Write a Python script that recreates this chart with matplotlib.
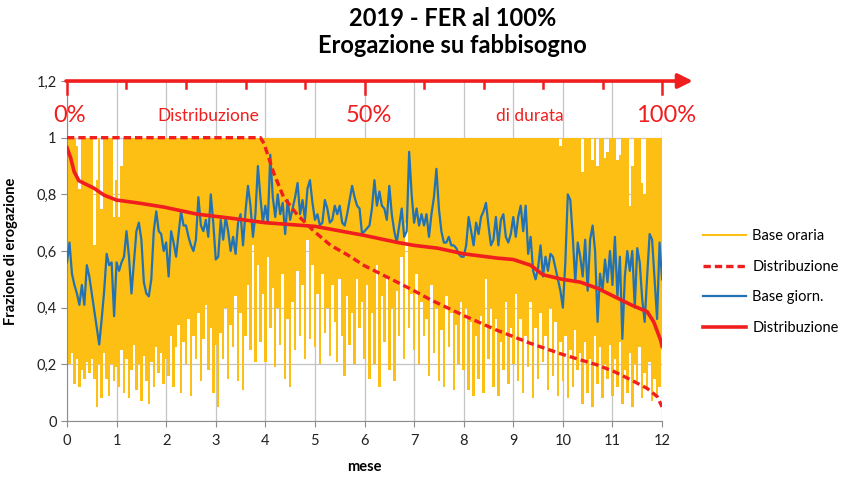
import numpy as np
import matplotlib
matplotlib.use("Agg")
import matplotlib.pyplot as plt
from matplotlib.lines import Line2D
from matplotlib.ticker import FuncFormatter, MultipleLocator

plt.rcParams['font.family'] = ['Lato', 'DejaVu Sans']

# daily base (Base giorn.), one value every 0.05 month, month by month
base_giorn = (
    [0.56, 0.63, 0.52, 0.48, 0.45, 0.41, 0.48, 0.41, 0.55, 0.51, 0.45, 0.39, 0.33, 0.27, 0.36, 0.46, 0.59, 0.55, 0.56, 0.37]
    + [0.56, 0.53, 0.56, 0.58, 0.67, 0.58, 0.45, 0.56, 0.67, 0.70, 0.64, 0.49, 0.45, 0.44, 0.50, 0.67, 0.74, 0.67, 0.66, 0.60]
    + [0.63, 0.51, 0.67, 0.63, 0.58, 0.66, 0.74, 0.69, 0.69, 0.65, 0.62, 0.60, 0.64, 0.79, 0.69, 0.67, 0.71, 0.65, 0.80, 0.70]
    + [0.57, 0.58, 0.71, 0.64, 0.72, 0.67, 0.60, 0.65, 0.59, 0.70, 0.73, 0.62, 0.74, 0.83, 0.76, 0.65, 0.73, 0.90, 0.79, 0.70]
    + [0.76, 0.70, 0.94, 0.79, 0.72, 0.80, 0.73, 0.77, 0.66, 0.78, 0.71, 0.75, 0.79, 0.84, 0.73, 0.78, 0.71, 0.82, 0.85, 0.77]
    + [0.71, 0.73, 0.69, 0.70, 0.78, 0.75, 0.70, 0.71, 0.76, 0.73, 0.76, 0.70, 0.69, 0.73, 0.78, 0.83, 0.79, 0.76, 0.75, 0.66]
    + [0.67, 0.68, 0.69, 0.75, 0.85, 0.76, 0.81, 0.76, 0.75, 0.71, 0.83, 0.73, 0.67, 0.63, 0.69, 0.75, 0.65, 0.67, 0.95, 0.80]
    + [0.70, 0.75, 0.69, 0.73, 0.69, 0.73, 0.65, 0.73, 0.79, 0.89, 0.75, 0.67, 0.63, 0.63, 0.65, 0.62, 0.62, 0.61, 0.59, 0.58]
    + [0.58, 0.62, 0.72, 0.67, 0.62, 0.70, 0.66, 0.72, 0.74, 0.77, 0.69, 0.62, 0.64, 0.72, 0.62, 0.71, 0.73, 0.65, 0.63, 0.66]
    + [0.72, 0.65, 0.72, 0.76, 0.67, 0.76, 0.59, 0.65, 0.53, 0.50, 0.54, 0.62, 0.51, 0.58, 0.53, 0.59, 0.58, 0.54, 0.50, 0.46]
    + [0.40, 0.56, 0.80, 0.78, 0.65, 0.49, 0.63, 0.58, 0.51, 0.64, 0.46, 0.64, 0.69, 0.60, 0.35, 0.52, 0.46, 0.57, 0.49, 0.60]
    + [0.48, 0.65, 0.44, 0.58, 0.29, 0.51, 0.60, 0.53, 0.60, 0.40, 0.61, 0.56, 0.43, 0.35, 0.51, 0.66, 0.64, 0.50, 0.36, 0.63]
    + [0.50]
)

# hourly base (Base oraria): lower and upper envelope on the same grid
oraria_min = (
    [0.27, 0.20, 0.24, 0.13, 0.22, 0.12, 0.18, 0.15, 0.21, 0.17, 0.22, 0.15, 0.05, 0.20, 0.08, 0.24, 0.15, 0.09, 0.20, 0.14]
    + [0.19, 0.12, 0.25, 0.10, 0.22, 0.08, 0.18, 0.27, 0.11, 0.20, 0.07, 0.23, 0.14, 0.06, 0.21, 0.12, 0.26, 0.17, 0.24, 0.13]
    + [0.22, 0.16, 0.30, 0.12, 0.26, 0.34, 0.10, 0.28, 0.20, 0.36, 0.09, 0.30, 0.22, 0.38, 0.14, 0.29, 0.41, 0.18, 0.33, 0.10]
    + [0.27, 0.05, 0.31, 0.22, 0.40, 0.15, 0.34, 0.26, 0.44, 0.14, 0.38, 0.11, 0.30, 0.48, 0.25, 0.62, 0.21, 0.55, 0.28, 0.45]
    + [0.21, 0.58, 0.33, 0.47, 0.19, 0.40, 0.27, 0.52, 0.15, 0.36, 0.12, 0.42, 0.25, 0.53, 0.30, 0.48, 0.22, 0.64, 0.29, 0.55]
    + [0.26, 0.45, 0.20, 0.52, 0.31, 0.40, 0.23, 0.48, 0.35, 0.21, 0.50, 0.30, 0.16, 0.44, 0.27, 0.38, 0.20, 0.50, 0.33, 0.42]
    + [0.22, 0.48, 0.15, 0.38, 0.20, 0.55, 0.12, 0.44, 0.28, 0.50, 0.18, 0.40, 0.14, 0.46, 0.30, 0.58, 0.22, 0.70, 0.33, 0.45]
    + [0.25, 0.52, 0.20, 0.42, 0.30, 0.36, 0.16, 0.48, 0.24, 0.40, 0.14, 0.32, 0.12, 0.44, 0.26, 0.38, 0.11, 0.34, 0.20, 0.42]
    + [0.18, 0.40, 0.11, 0.35, 0.09, 0.30, 0.15, 0.37, 0.10, 0.50, 0.22, 0.40, 0.12, 0.36, 0.09, 0.28, 0.18, 0.42, 0.13, 0.33]
    + [0.20, 0.45, 0.14, 0.36, 0.10, 0.30, 0.19, 0.42, 0.08, 0.33, 0.15, 0.38, 0.21, 0.30, 0.11, 0.40, 0.16, 0.35, 0.09, 0.28]
    + [0.14, 0.30, 0.08, 0.25, 0.12, 0.32, 0.18, 0.24, 0.06, 0.28, 0.10, 0.22, 0.05, 0.30, 0.13, 0.26, 0.08, 0.20, 0.15, 0.27]
    + [0.09, 0.22, 0.12, 0.28, 0.06, 0.18, 0.10, 0.24, 0.05, 0.20, 0.14, 0.26, 0.08, 0.17, 0.11, 0.21, 0.07, 0.15, 0.09, 0.12]
    + [0.25]
)
oraria_max = (
    [1, 1, 1, 1, 0.97, 0.82, 1, 1, 1, 1, 1, 0.62, 0.85, 1, 0.75, 1, 1, 1, 1, 0.72]
    + [0.85, 0.72, 0.9, 1, 1, 1, 1, 1, 1, 1, 1, 1, 1, 1, 1, 1, 1, 1, 1, 1]
    + [1] * 20 + [1] * 20 + [1] * 20 + [1] * 20 + [1] * 20 + [1] * 20 + [1] * 20
    + [1, 1, 1, 1, 1, 1, 1, 1, 1, 1, 1, 1, 1, 1, 1, 1, 1, 1, 1, 0.97]
    + [1, 1, 1, 1, 1, 1, 1, 1, 0.88, 1, 1, 1, 0.92, 1, 0.90, 1, 1, 0.93, 0.95, 1]
    + [1, 1, 0.92, 0.94, 1, 1, 1, 0.76, 0.90, 1, 1, 1, 0.84, 0.80, 1, 1, 1, 1, 1, 1]
    + [1]
)

# duration curves, x in % of the year
dur_oraria_pct = [0, 32.5, 33.1, 34.75, 36.4, 38.7, 41.5, 44.3, 47.1, 50, 55.5, 58.3, 61.1,
                  66.7, 72.3, 75, 77.9, 83.3, 89.1, 91.9, 94.8, 97.5, 99.2, 100]
dur_oraria_val = [1.0, 1.0, 0.98, 0.875, 0.79, 0.728, 0.67, 0.62, 0.587, 0.548, 0.49, 0.46, 0.428,
                  0.372, 0.32, 0.298, 0.274, 0.235, 0.198, 0.175, 0.145, 0.115, 0.086, 0.05]
dur_giorn_pct = [0, 0.6, 1.2, 2, 4.5, 6.25, 8.3, 11.8, 16.3, 21.9, 27.5, 33.3, 41.7, 50, 55.6, 58.3,
                 62.3, 66.7, 72.3, 75, 77.9, 80, 83.3, 86.3, 89.2, 91.9, 94.8, 97.5, 98.6, 99.75, 100]
dur_giorn_val = [0.965, 0.93, 0.88, 0.848, 0.822, 0.797, 0.78, 0.77, 0.755, 0.73, 0.716, 0.70, 0.687,
                 0.655, 0.63, 0.62, 0.61, 0.59, 0.575, 0.57, 0.55, 0.516, 0.50, 0.49, 0.468, 0.44,
                 0.41, 0.386, 0.35, 0.286, 0.265]

arrow_ticks_pct = [0, 10, 20, 30, 40, 50, 60, 70, 80, 90, 100]
arrow_labels = ['0%', 'Distribuzione', '50%', 'di durata', '100%']
arrow_label_pct = [0.4, 23.8, 50.8, 77.8, 100.6]
legend_labels = ['Base oraria', 'Distribuzione', 'Base giorn.', 'Distribuzione']

ORANGE = '#FDBF13'
BLUE = '#2272B4'
RED = '#F01E1E'
GRID = '#C4C4C4'

n_months = 12
x_g = np.linspace(0, n_months, len(base_giorn))
x_o = np.linspace(0, n_months, len(oraria_min))

fig = plt.figure(figsize=(8.48, 4.78), dpi=100)
ax = fig.add_axes([0.079, 0.1192, 0.7017, 0.7113])

ax.fill_between(x_o, oraria_min, oraria_max, step='mid', color=ORANGE, lw=0, zorder=2)
ax.plot(x_g, base_giorn, color=BLUE, lw=1.6, zorder=3)
ax.plot(np.array(dur_oraria_pct) * n_months / 100, dur_oraria_val, color=RED, lw=2.4,
        dashes=(2.2, 1.2), zorder=4)
ax.plot(np.array(dur_giorn_pct) * n_months / 100, dur_giorn_val, color=RED, lw=2.6, zorder=5)

ax.set_xlim(0, n_months)
ax.set_ylim(0, 1.2)
ax.xaxis.set_major_locator(MultipleLocator(1))
ax.yaxis.set_major_locator(MultipleLocator(0.2))
ax.yaxis.set_major_formatter(FuncFormatter(lambda v, p: ('%.1f' % v).replace('.', ',').replace(',0', '') if abs(v) > 1e-9 else '0'))
ax.grid(True, color=GRID, lw=0.9)
ax.set_axisbelow(True)
for s in ['top', 'right']:
    ax.spines[s].set_visible(False)
for s in ['left', 'bottom']:
    ax.spines[s].set_color('#8C8C8C')
ax.tick_params(axis='both', labelsize=10.5, colors='#8C8C8C', labelcolor='#222222', length=4)
ax.tick_params(axis='x', pad=5)

ax.set_xlabel('mese', fontsize=10.5, fontweight='bold')
ax.xaxis.set_label_coords(0.5, -0.115)
ax.set_ylabel('Frazione di erogazione', fontsize=10.5, fontweight='bold')
ax.yaxis.set_label_coords(-0.082, 0.5)

# red duration arrow along the top
ax.annotate('', xy=(12.62, 1.2), xytext=(-0.02, 1.2), xycoords='data',
            arrowprops=dict(arrowstyle='-|>', color=RED, lw=2.6, mutation_scale=22, shrinkA=0, shrinkB=0),
            annotation_clip=False, zorder=6)
for p in arrow_ticks_pct:
    depth = 0.045 if p in (0, 50, 100) else 0.025
    ax.plot([p * n_months / 100] * 2, [1.2, 1.2 - depth], color=RED, lw=1.8, clip_on=False, zorder=6)
for lab, p in zip(arrow_labels, arrow_label_pct):
    big = '%' in lab
    ax.text(p * n_months / 100, 1.078, lab, color=RED, ha='center', va='center',
            fontsize=17 if big else 12.5, clip_on=False)

fig.text(0.534, 0.962, '2019 - FER al 100%', ha='center', va='center', fontsize=17, fontweight='bold')
fig.text(0.534, 0.905, 'Erogazione su fabbisogno', ha='center', va='center', fontsize=17, fontweight='bold')

handles = [Line2D([], [], color=ORANGE, lw=1.5),
           Line2D([], [], color=RED, lw=2.4, dashes=(2.2, 1.2)),
           Line2D([], [], color=BLUE, lw=1.6),
           Line2D([], [], color=RED, lw=2.6)]
fig.legend(handles, legend_labels, loc='center left', bbox_to_anchor=(0.82, 0.41), frameon=False,
           fontsize=10.5, handlelength=3.0, handletextpad=0.4, labelspacing=1.15, borderpad=0)

fig.savefig('out.png', dpi=100)
